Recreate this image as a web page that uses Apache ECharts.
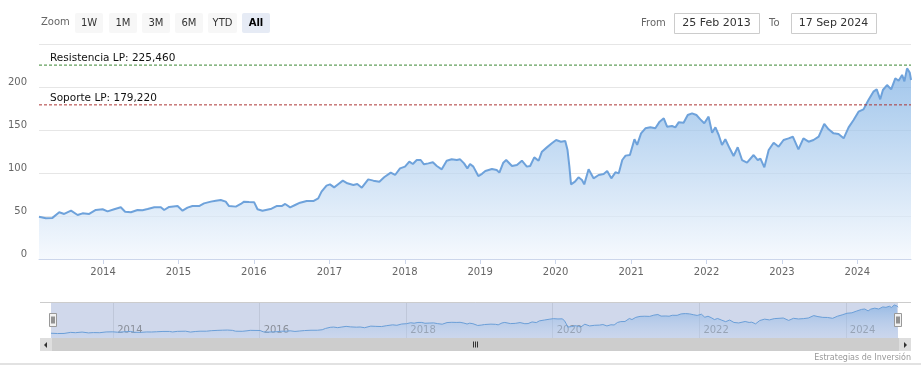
<!DOCTYPE html>
<html>
<head>
<meta charset="utf-8">
<script src="https://cdn.jsdelivr.net/npm/echarts@6/dist/echarts.min.js"></script>
<style>
html,body{margin:0;padding:0;background:#fff;}
#chart{width:921px;height:378px;}
</style>
</head>
<body>
<div id="chart"></div>
<script>
// ---- data ----
const startDate = '2013-02-25';
const endDate = '2024-09-17';
const dates = [
  '2013-02-25','2013-03-30','2013-05-01','2013-06-03','2013-06-27','2013-07-30','2013-08-31','2013-09-24','2013-10-26','2013-11-27','2013-12-30',
  '2014-01-23','2014-02-24','2014-03-28','2014-04-18','2014-05-16','2014-06-17','2014-07-11','2014-08-05','2014-09-06','2014-10-08','2014-10-24','2014-11-17','2014-12-28',
  '2015-01-21','2015-02-14','2015-03-10','2015-04-11','2015-05-05','2015-06-07','2015-07-01','2015-07-25','2015-08-18','2015-09-03','2015-10-06','2015-10-30','2015-11-15','2015-12-09',
  '2016-01-03','2016-01-19','2016-02-12','2016-03-27','2016-04-20','2016-05-15','2016-06-01','2016-06-25','2016-07-19','2016-08-12','2016-09-13','2016-10-15','2016-11-08','2016-11-24','2016-12-18',
  '2017-01-04','2017-01-24','2017-02-14','2017-03-07','2017-03-29','2017-04-27','2017-05-16','2017-06-07','2017-07-08','2017-08-02','2017-08-31','2017-09-23','2017-10-25','2017-11-15','2017-12-09',
  '2018-01-02','2018-01-23','2018-02-09','2018-02-28','2018-03-19','2018-04-04','2018-04-25','2018-05-17','2018-06-05','2018-06-29','2018-07-23','2018-08-16','2018-09-10','2018-09-26','2018-10-15','2018-10-31','2018-11-13','2018-11-29','2018-12-23',
  '2019-01-10','2019-01-26','2019-02-27','2019-03-22','2019-04-04','2019-04-23','2019-05-07','2019-06-04','2019-06-28','2019-07-22','2019-08-15','2019-08-31','2019-09-20','2019-10-11','2019-10-27','2019-11-20','2019-12-14',
  '2020-01-04','2020-01-27','2020-02-17','2020-02-28','2020-03-08','2020-03-16','2020-04-04','2020-04-21','2020-05-08','2020-05-19','2020-06-09','2020-07-03','2020-07-28','2020-08-21','2020-09-07','2020-09-27','2020-10-17','2020-11-02','2020-11-19','2020-12-05','2020-12-26',
  '2021-01-17','2021-01-30','2021-02-18','2021-03-11','2021-04-04','2021-04-28','2021-05-19','2021-06-08','2021-06-24','2021-07-18','2021-08-03','2021-08-19','2021-09-12','2021-10-02','2021-10-23','2021-11-13','2021-12-02','2021-12-21',
  '2022-01-11','2022-01-28','2022-02-13','2022-03-01','2022-03-17','2022-04-02','2022-04-23','2022-05-12','2022-06-01','2022-06-22','2022-07-16','2022-08-17','2022-09-06','2022-09-19','2022-10-08','2022-10-29','2022-11-22','2022-12-16',
  '2023-01-09','2023-02-02','2023-02-23','2023-03-22','2023-04-15','2023-05-10','2023-06-03','2023-06-28','2023-07-25','2023-08-15','2023-09-08','2023-10-02','2023-10-27','2023-11-20','2023-12-14',
  '2024-01-07','2024-01-31','2024-02-24','2024-03-19','2024-04-04','2024-04-21','2024-05-04','2024-05-24','2024-06-13','2024-07-03','2024-07-19','2024-08-05','2024-08-16','2024-08-29','2024-09-11','2024-09-17'
];
const closes = [
  49.2,47.3,47.8,54.3,52.4,56.2,51.2,53.1,52.4,57.0,57.8,
  55.4,57.8,60.1,55.0,54.3,57.0,56.6,58.1,60.1,60.1,57.0,60.5,61.6,
  56.2,59.7,61.6,61.6,64.7,66.7,67.8,68.6,66.7,61.6,60.9,64.0,66.7,66.3,
  65.9,57.8,56.2,58.5,61.6,61.6,64.0,60.1,62.8,65.5,67.4,67.4,70.5,78.3,85.3,
  86.8,83.3,87.2,91.1,88.0,86.1,87.2,82.9,92.6,91.1,89.9,95.0,100.4,97.7,105.4,
  107.4,113.2,110.5,115.1,115.1,110.1,111.2,112.4,108.1,104.3,114.3,115.9,115.1,115.9,111.2,105.4,110.5,107.4,96.5,
  99.0,102.3,104.7,103.5,100.4,112.0,115.1,108.1,109.3,114.3,107.4,108.1,118.2,114.3,124.8,129.8,134.5,
  138.4,136.4,137.2,126.7,107.4,86.8,89.9,95.0,91.9,86.8,104.3,93.8,97.7,98.8,102.3,93.8,100.8,99.6,115.1,120.2,120.9,
  139.2,132.7,146.1,152.0,153.1,152.0,159.7,163.6,153.9,154.6,153.1,158.9,158.5,167.4,169.4,167.4,162.4,157.8,
  165.5,146.9,153.1,144.2,132.6,139.2,128.7,119.8,129.9,115.1,112.0,120.9,115.1,116.7,106.6,126.7,135.2,130.6,
  138.4,140.3,142.2,127.5,140.3,136.4,138.4,142.2,157.0,150.8,146.1,145.4,140.3,153.1,161.6,
  171.3,174.0,184.9,194.6,197.3,185.7,196.5,202.3,197.3,210.1,207.3,214.0,206.6,221.7,216.7,208.1
];
const levelValues = [225.46, 179.22];
const levelLabels = ['Resistencia LP: 225,460', 'Soporte LP: 179,220'];
const zoomButtons = ['1W', '1M', '3M', '6M', 'YTD', 'All'];
const fromText = '25 Feb 2013';
const toText = '17 Sep 2024';
const creditText = 'Estrategias de Inversión';

// ---- chart ----
const FONT = '"DejaVu Sans", Verdana, sans-serif';
const DAY = 86400000;
const seriesData = dates.map((d, i) => [d, closes[i]]);
const levelColors = ['#3a8632', '#ad3535'];

const chart = echarts.init(document.getElementById('chart'), null, {renderer: 'canvas'});

// toolbar graphics
const graphics = [];
graphics.push({type: 'text', left: 41, top: 17, style: {text: 'Zoom', fill: '#666', font: '10px ' + FONT}});
const btnX = [75, 109, 142, 175, 208, 242];
const btnW = [28, 28, 28, 28, 29, 28];
zoomButtons.forEach((b, i) => {
  const sel = b === 'All';
  graphics.push({type: 'rect', shape: {x: btnX[i], y: 13, width: btnW[i], height: 20, r: 2},
    style: {fill: sel ? '#e6ebf5' : '#f7f7f7'}});
  graphics.push({type: 'text', x: btnX[i] + btnW[i] / 2, y: 23,
    style: {text: b, fill: sel ? '#000' : '#333', font: (sel ? 'bold ' : '') + '10px ' + FONT, align: 'center', verticalAlign: 'middle'}});
});
graphics.push({type: 'text', x: 641, y: 23, style: {text: 'From', fill: '#666', font: '10px ' + FONT, verticalAlign: 'middle'}});
graphics.push({type: 'rect', shape: {x: 674.5, y: 13.5, width: 85, height: 20}, style: {fill: '#fff', stroke: '#ccc', lineWidth: 1}});
graphics.push({type: 'text', x: 716.5, y: 23.5, style: {text: fromText, fill: '#333', font: '11px ' + FONT, align: 'center', verticalAlign: 'middle'}});
graphics.push({type: 'text', x: 769, y: 23, style: {text: 'To', fill: '#666', font: '10px ' + FONT, verticalAlign: 'middle'}});
graphics.push({type: 'rect', shape: {x: 791.5, y: 13.5, width: 85, height: 20}, style: {fill: '#fff', stroke: '#ccc', lineWidth: 1}});
graphics.push({type: 'text', x: 833.5, y: 23.5, style: {text: toText, fill: '#333', font: '11px ' + FONT, align: 'center', verticalAlign: 'middle'}});

// navigator outline + handles
graphics.push({type: 'line', shape: {x1: 40, y1: 302.5, x2: 911, y2: 302.5}, style: {stroke: '#ccc', lineWidth: 1}, z: 10});
[49.5, 894.5].forEach(hx => {
  graphics.push({type: 'rect', shape: {x: hx, y: 313.5, width: 7, height: 13}, style: {fill: '#f2f2f2', stroke: '#999', lineWidth: 1}, z: 20});
  graphics.push({type: 'line', shape: {x1: hx + 2.5, y1: 316.5, x2: hx + 2.5, y2: 323.5}, style: {stroke: '#333', lineWidth: 1}, z: 21});
  graphics.push({type: 'line', shape: {x1: hx + 4.5, y1: 316.5, x2: hx + 4.5, y2: 323.5}, style: {stroke: '#333', lineWidth: 1}, z: 21});
});
// scrollbar
graphics.push({type: 'rect', shape: {x: 40, y: 338, width: 871, height: 13}, style: {fill: '#cdcdcd'}, z: 10});
graphics.push({type: 'rect', shape: {x: 40, y: 338, width: 12, height: 13}, style: {fill: '#dedede'}, z: 11});
graphics.push({type: 'rect', shape: {x: 899, y: 338, width: 12, height: 13}, style: {fill: '#dedede'}, z: 11});
graphics.push({type: 'polygon', shape: {points: [[47, 342], [47, 348], [44, 345]]}, style: {fill: '#333'}, z: 12});
graphics.push({type: 'polygon', shape: {points: [[904, 342], [904, 348], [907, 345]]}, style: {fill: '#333'}, z: 12});
[473.5, 475.5, 477.5].forEach(gx => {
  graphics.push({type: 'line', shape: {x1: gx, y1: 341.5, x2: gx, y2: 347.5}, style: {stroke: '#333', lineWidth: 1}, z: 12});
});
// credits + bottom border
graphics.push({type: 'text', x: 911, y: 358, style: {text: creditText, fill: '#999', font: '8px ' + FONT, align: 'right', verticalAlign: 'middle'}});
graphics.push({type: 'line', shape: {x1: 0, y1: 364, x2: 921, y2: 364}, style: {stroke: '#d8d8d8', lineWidth: 1.5}});

// support / resistance levels drawn as flat two-point line series
function levelSeries(i) {
  return {
    type: 'line', xAxisIndex: 0, yAxisIndex: 0, silent: true, z: 5,
    color: levelColors[i],
    showSymbol: true, symbol: 'circle', symbolSize: 2,
    itemStyle: {color: 'rgba(0,0,0,0)', borderWidth: 0},
    lineStyle: {color: levelColors[i], type: [3, 2], width: 1, opacity: 1},
    labelLayout: {hideOverlap: false},
    label: {show: false},
    data: [
      {value: [startDate, levelValues[i]],
       label: {show: true, formatter: levelLabels[i], position: [12, -5.5], align: 'left', verticalAlign: 'middle',
               color: '#111', fontSize: 10.5, fontFamily: FONT}},
      {value: [endDate, levelValues[i]]}
    ]
  };
}

const option = {
  animation: false,
  backgroundColor: '#fff',
  textStyle: {fontFamily: FONT},
  grid: [
    {left: 39, right: 10, top: 44, bottom: 119, containLabel: false},
    {left: 51, right: 23, top: 302, height: 36, show: true, backgroundColor: '#d0d8eb', borderWidth: 0, containLabel: false}
  ],
  xAxis: [
    {
      type: 'time', gridIndex: 0, min: startDate, max: endDate,
      splitNumber: 12, minInterval: 365 * DAY,
      axisLine: {show: true, lineStyle: {color: '#ccd6eb'}},
      axisTick: {show: true, length: 5, lineStyle: {color: '#ccd6eb'}},
      axisLabel: {formatter: '{yyyy}', color: '#666', fontSize: 10, margin: 8, fontFamily: FONT},
      splitLine: {show: false}
    },
    {
      type: 'time', gridIndex: 1, min: startDate, max: endDate,
      splitNumber: 12, minInterval: 365 * DAY, maxInterval: 366 * DAY,
      axisLine: {show: false}, axisTick: {show: false},
      axisLabel: {inside: true, formatter: v => (new Date(v).getFullYear() % 2 === 0 ? String(new Date(v).getFullYear()) : ''),
        color: '#8a8f99', fontSize: 10, align: 'left', margin: 3, padding: [0, 0, 0, 4], fontFamily: FONT},
      splitLine: {show: true, lineStyle: {color: ['rgba(0,0,0,0)', '#bfc7d9'], width: 1}}
    }
  ],
  yAxis: [
    {
      type: 'value', gridIndex: 0, min: 0, max: 250, interval: 50,
      axisLine: {show: false}, axisTick: {show: false},
      axisLabel: {formatter: v => (v === 250 ? '' : String(v)), color: '#666', fontSize: 10, margin: 12, verticalAlign: 'bottom', fontFamily: FONT},
      splitLine: {show: true, lineStyle: {color: '#e6e6e6', width: 1}}
    },
    {type: 'value', gridIndex: 1, min: 20, max: 240, show: false}
  ],
  series: [
    {
      type: 'line', xAxisIndex: 0, yAxisIndex: 0, data: seriesData,
      showSymbol: false, symbol: 'none', silent: true,
      lineStyle: {color: '#6ea2db', width: 2},
      areaStyle: {color: new echarts.graphic.LinearGradient(0, 0, 0, 1, [
        {offset: 0, color: '#78ade3'}, {offset: 1, color: '#f2f7fd'}
      ])}
    },
    levelSeries(0),
    levelSeries(1),
    {
      type: 'line', xAxisIndex: 1, yAxisIndex: 1, data: seriesData,
      showSymbol: false, symbol: 'none', silent: true,
      lineStyle: {color: '#6b9fd8', width: 1},
      areaStyle: {color: new echarts.graphic.LinearGradient(0, 0, 0, 1, [
        {offset: 0, color: 'rgba(120,170,225,0.9)'}, {offset: 1, color: 'rgba(190,210,240,0.4)'}
      ])}
    }
  ],
  graphic: graphics
};
chart.setOption(option);
</script>
</body>
</html>
